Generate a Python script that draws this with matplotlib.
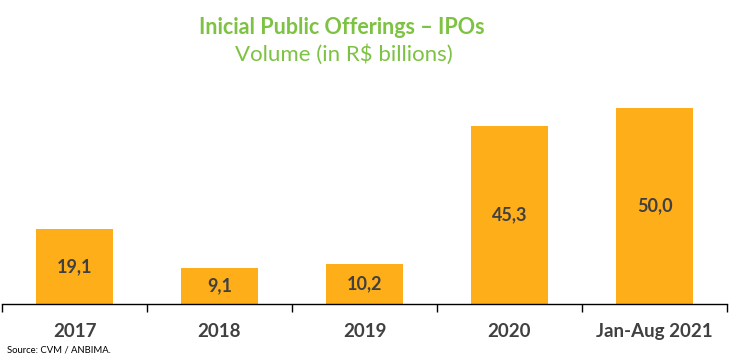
import matplotlib.pyplot as plt
import numpy as np

plt.rcParams['font.family'] = ['Lato', 'DejaVu Sans']

categories = ['2017', '2018', '2019', '2020', 'Jan-Aug 2021']
volumes = [19.1, 9.1, 10.2, 45.3, 50.0]
value_labels = ['19,1', '9,1', '10,2', '45,3', '50,0']

bar_color = '#FDAE19'
green = '#7DC242'
text_gray = '#404040'

fig = plt.figure(figsize=(7.51, 3.56), dpi=100)
ax = fig.add_axes([2 / 751, 52 / 356, 725 / 751, 224 / 356])

x = np.arange(len(categories))
bars = ax.bar(x, volumes, width=0.53, color=bar_color, edgecolor='none')

for bar, lab in zip(bars, value_labels):
    ax.text(bar.get_x() + bar.get_width() / 2, bar.get_height() / 2, lab,
            ha='center', va='center', fontsize=13, fontweight='bold', color=text_gray)

ax.set_xlim(-0.5, len(categories) - 0.5)
ax.set_ylim(0, 57.1)
ax.set_yticks([])
ax.set_xticks(x)
ax.set_xticklabels(categories, fontsize=13.5, fontweight='bold', color=text_gray)
ax.tick_params(axis='x', which='major', length=0, pad=14)
ax.set_xticks(np.arange(-0.5, len(categories)), minor=True)
ax.tick_params(axis='x', which='minor', length=6, width=1, color='black', direction='out')

for s in ['top', 'right', 'left']:
    ax.spines[s].set_visible(False)
ax.spines['bottom'].set_color('black')
ax.spines['bottom'].set_linewidth(1)

fig.text(342 / 751, 1 - 27 / 356, 'Inicial Public Offerings – IPOs', ha='center', va='center',
         fontsize=15.5, fontweight='bold', color=green)
fig.text(344 / 751, 1 - 55 / 356, 'Volume (in R$ billions)', ha='center', va='center',
         fontsize=16, color=green)
fig.text(7 / 751, 1 - 350 / 356, 'Source: CVM / ANBIMA.', ha='left', va='center',
         fontsize=6.8, color='black')

fig.savefig('out.png', dpi=100)
